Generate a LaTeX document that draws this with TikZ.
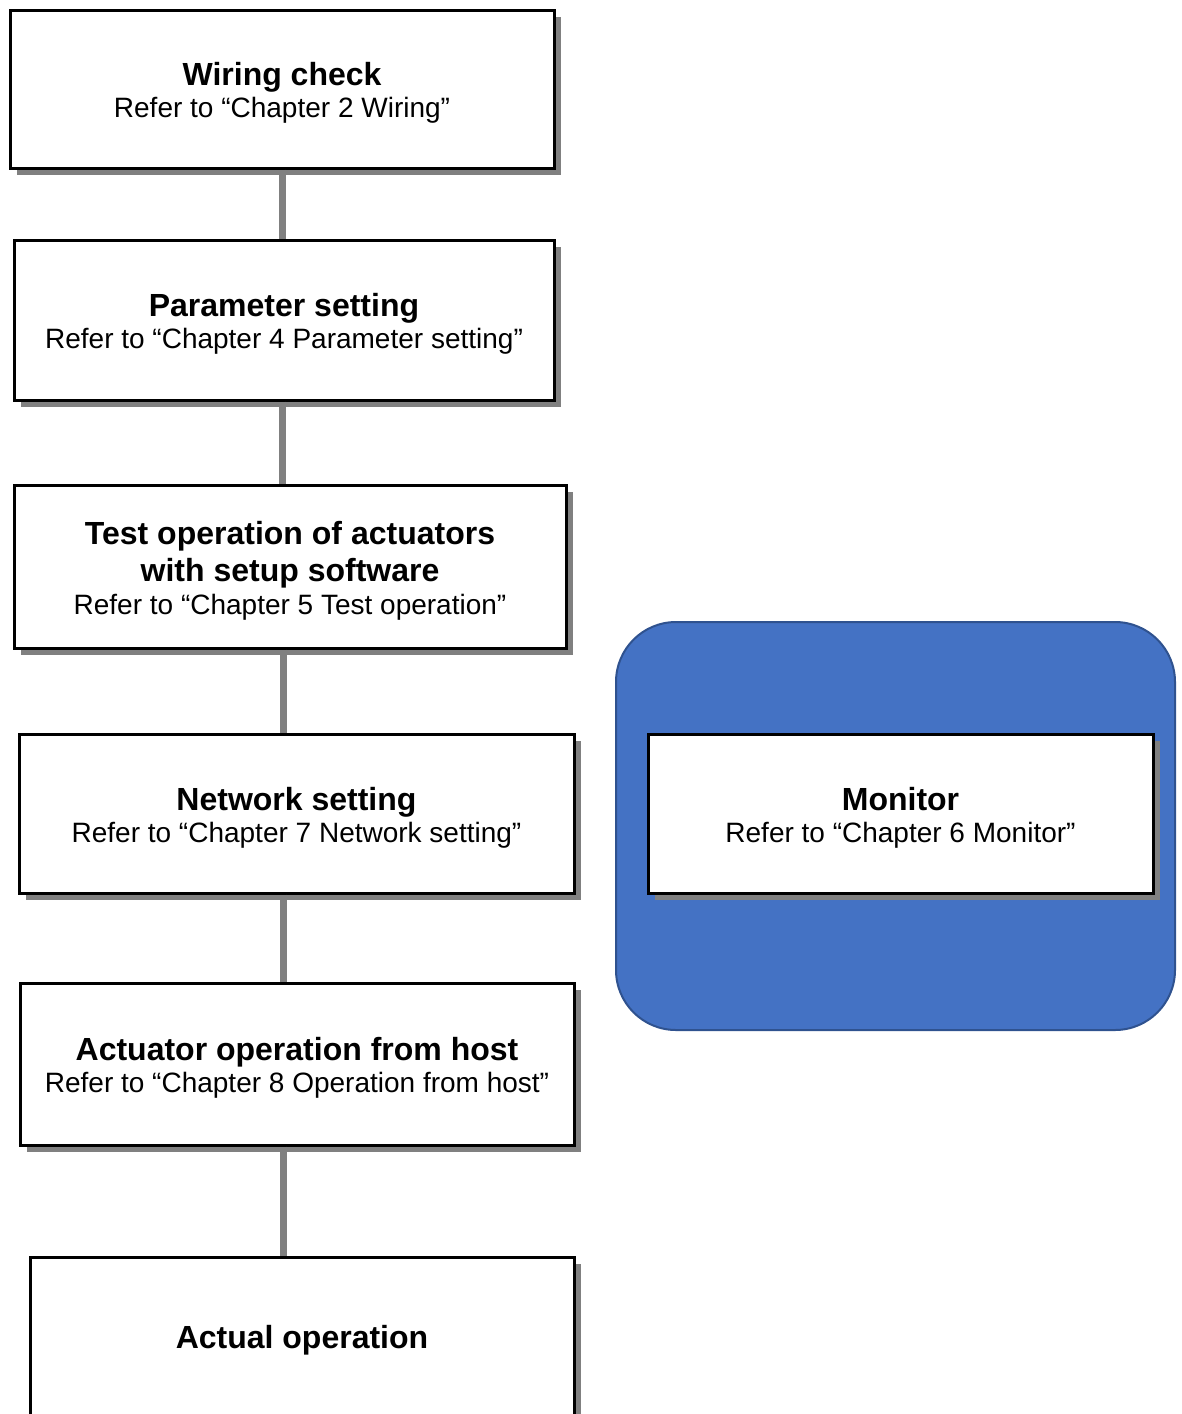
\documentclass[tikz,border=0pt]{standalone}
\usepackage{fontspec}
\setmainfont{Liberation Sans}
\newcommand{\ttl}{\fontsize{32}{37}\selectfont\bfseries}
\newcommand{\subt}{\fontsize{28}{32}\selectfont}
\newcommand{\tstrut}{\rule{0pt}{31pt}}
\definecolor{blueF}{HTML}{4472C4}
\definecolor{blueD}{HTML}{2F528F}
\definecolor{shade}{HTML}{808080}
\begin{document}
\begin{tikzpicture}[x=1pt,y=-1pt,
  box/.style={draw=black, line width=3pt, fill=white, rectangle, inner sep=0pt, align=center, font=\subt},
  conn/.style={draw=shade, line width=7pt},
  shadowbox/.style={fill=shade, draw=none}]
\useasboundingbox (0,0) rectangle (1182,1414);
\begin{scope}
\clip (0,0) rectangle (1182,1414);
% blue panel
\node[draw=blueD, line width=2pt, fill=blueF, rounded corners=60pt, minimum width=559pt, minimum height=408pt, inner sep=0pt] (panel) at (895.5,826) {};
% shadows
\fill[shadowbox] (17,17) rectangle (561,175);
\fill[shadowbox] (21,247) rectangle (561,407);
\fill[shadowbox] (21,492) rectangle (573,655);
\fill[shadowbox] (26,741) rectangle (581,900);
\fill[shadowbox] (27,990) rectangle (581,1152);
\fill[shadowbox] (37,1264) rectangle (581,1430);
\fill[shadowbox] (655,741) rectangle (1160,900);
% spine coordinates
\coordinate (sp1) at (282,0);
\coordinate (sp2) at (283,0);
% boxes
\node[box, minimum width=544pt, minimum height=158pt] (w) at (282,89) {{\ttl\tstrut Wiring check}\\Refer to “Chapter 2 Wiring”};
\node[box, minimum width=540pt, minimum height=160pt] (p) at (284,320) {{\ttl\tstrut Parameter setting}\\Refer to “Chapter 4 Parameter setting”};
\node[box, minimum width=552pt, minimum height=163pt] (t) at (290,566.5) {{\ttl\tstrut Test operation of actuators}\\[5pt]{\ttl with setup software}\\[1pt]Refer to “Chapter 5 Test operation”};
\node[box, minimum width=555pt, minimum height=159pt] (n) at (296.5,813.5) {{\ttl\tstrut Network setting}\\Refer to “Chapter 7 Network setting”};
\node[box, minimum width=554pt, minimum height=162pt] (a) at (297,1064) {{\ttl\tstrut Actuator operation from host}\\Refer to “Chapter 8 Operation from host”};
\node[box, minimum width=544pt, minimum height=166pt] (o) at (302,1340) {\ttl Actual operation};
\node[box, minimum width=505pt, minimum height=159pt] (m) at (900.5,813.5) {{\ttl\tstrut Monitor}\\Refer to “Chapter 6 Monitor”};
% connectors
\draw[conn] (w.south -| sp1) -- (p.north -| sp1);
\draw[conn] (p.south -| sp1) -- (t.north -| sp1);
\draw[conn] (t.south -| sp2) -- (n.north -| sp2);
\draw[conn] (n.south -| sp2) -- (a.north -| sp2);
\draw[conn] (a.south -| sp2) -- (o.north -| sp2);
\end{scope}
\end{tikzpicture}
\end{document}
